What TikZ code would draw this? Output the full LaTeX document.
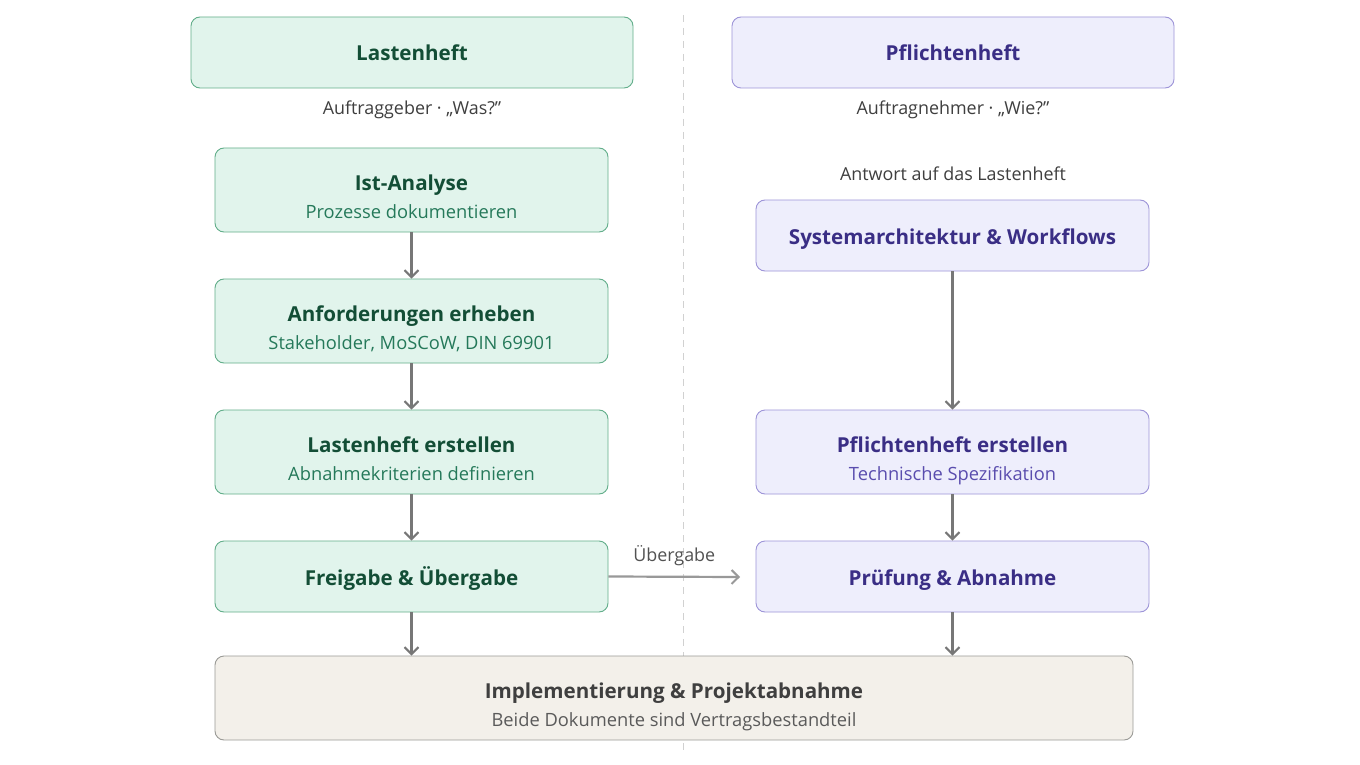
\documentclass[tikz,border=0pt]{standalone}
\usepackage{fontspec}
\setmainfont{Open Sans}
\usetikzlibrary{arrows.meta}
\definecolor{gfill}{HTML}{E1F4EC}
\definecolor{gdraw}{HTML}{62AE8A}
\definecolor{gtext}{HTML}{134E36}
\definecolor{gsub}{HTML}{25795A}
\definecolor{pfill}{HTML}{EEEEFC}
\definecolor{pdraw}{HTML}{9D94D8}
\definecolor{ptext}{HTML}{3A2E85}
\definecolor{psub}{HTML}{5A4DAE}
\definecolor{bfill}{HTML}{F3F0EA}
\definecolor{bdraw}{HTML}{9A9A96}
\definecolor{btext}{HTML}{3F3F3F}
\definecolor{bsub}{HTML}{5A5A5A}
\definecolor{arr}{HTML}{777777}
\tikzset{
  box/.style={rounded corners=9pt, line width=0.9pt, align=center, inner sep=0pt},
  gbox/.style={box, fill=gfill, draw=gdraw, text=gtext},
  pbox/.style={box, fill=pfill, draw=pdraw, text=ptext},
  bbox/.style={box, fill=bfill, draw=bdraw, text=btext},
  captxt/.style={font=\fontsize{17.9}{21}\selectfont, text=btext},
  flow/.style={draw=arr, line width=2.2pt, -{Straight Barb[length=7pt,width=14pt,line width=2pt]}},
}
\newcommand{\tl}[1]{{\bfseries\fontsize{20.6}{24}\selectfont\rule[-6pt]{0pt}{29pt}#1}}
\newcommand{\tlt}[1]{{\bfseries\fontsize{20.6}{24}\selectfont\rule[-7pt]{0pt}{42pt}#1}}
\newcommand{\sbl}[2]{{\fontsize{18.3}{21}\selectfont\color{#1}\rule[-7pt]{0pt}{27pt}#2}}
\begin{document}
\begin{tikzpicture}[x=1pt,y=-1pt]
\useasboundingbox (0,0) rectangle (1360,765);
\fill[white] (0,0) rectangle (1360,765);
\coordinate (dtop) at (683,15);
\coordinate (dbot) at (683,755);
\draw[draw=black!18, line width=1pt, dash pattern=on 7pt off 6pt] (dtop) -- (dbot);

\node[gbox, minimum width=442pt, minimum height=71pt] (lh) at (412,52.5) {\tl{Lastenheft}};
\node[pbox, minimum width=442pt, minimum height=71pt] (ph) at (953,52.5) {\tl{Pflichtenheft}};
\node[captxt] (lhc) at (412,110) {Auftraggeber · „Was?"};
\node[captxt] (phc) at (953,110) {Auftragnehmer · „Wie?"};
\node[captxt] (ant) at (953,174) {Antwort auf das Lastenheft};

\node[gbox, minimum width=393pt, minimum height=84pt] (ist) at (411.5,190) {\tlt{Ist-Analyse}\\\sbl{gsub}{Prozesse dokumentieren}};
\node[gbox, minimum width=393pt, minimum height=84pt] (anf) at (411.5,321) {\tlt{Anforderungen erheben}\\\sbl{gsub}{Stakeholder, MoSCoW, DIN 69901}};
\node[gbox, minimum width=393pt, minimum height=84pt] (lhe) at (411.5,452) {\tlt{Lastenheft erstellen}\\\sbl{gsub}{Abnahmekriterien definieren}};
\node[gbox, minimum width=393pt, minimum height=71pt] (frg) at (411.5,576.5) {\tl{Freigabe \& Übergabe}};

\node[pbox, minimum width=393pt, minimum height=71pt] (sys) at (952.5,235.5) {\tl{Systemarchitektur \& Workflows}};
\node[pbox, minimum width=393pt, minimum height=84pt] (phe) at (952.5,452) {\tlt{Pflichtenheft erstellen}\\\sbl{psub}{Technische Spezifikation}};
\node[pbox, minimum width=393pt, minimum height=71pt] (pru) at (952.5,576.5) {\tl{Prüfung \& Abnahme}};

\node[bbox, minimum width=918pt, minimum height=84pt] (imp) at (674,698) {\tlt{Implementierung \& Projektabnahme}\\\sbl{bsub}{Beide Dokumente sind Vertragsbestandteil}};

\draw[flow] (ist) -- (anf);
\draw[flow] (anf) -- (lhe);
\draw[flow] (lhe) -- (frg);
\draw[flow] (sys) -- (phe);
\draw[flow] (phe) -- (pru);
\draw[flow] (frg.south) -- (frg.south |- imp.north);
\draw[flow] (pru.south) -- (pru.south |- imp.north);
\coordinate (uend) at (740,577);
\draw[flow, draw=arr!75] (frg.east) -- (uend) node[midway, above=7pt, captxt, text=btext!90] (ulab) {Übergabe};
\end{tikzpicture}
\end{document}
